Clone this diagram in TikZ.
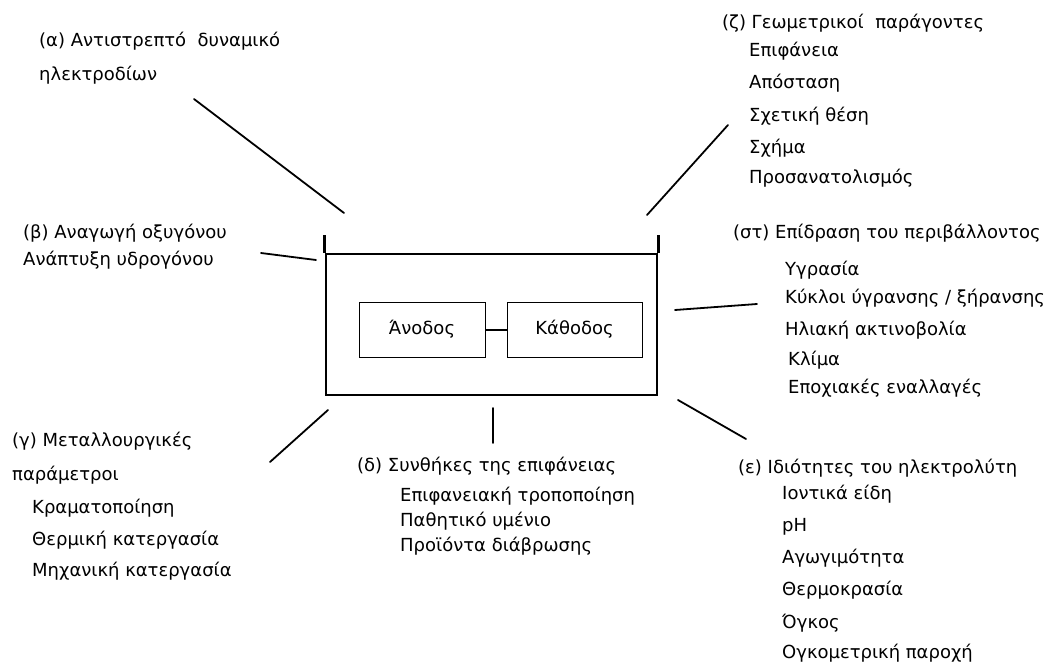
\documentclass[tikz,border=0pt]{standalone}
\usepackage{fontspec}
\setmainfont{DejaVu Sans}
\usetikzlibrary{positioning}

\begin{document}
\begin{tikzpicture}[x=1pt,y=-1pt,
  txt/.style={anchor=west,inner sep=0pt,text height=0.72em,text depth=0pt,font=\fontsize{18}{21}\selectfont},
  lead/.style={line width=1.8pt,line cap=round},
  electrode/.style={draw,line width=0.8pt,minimum height=55pt,inner sep=0pt,font=\fontsize{18}{21}\selectfont}]
  \useasboundingbox (0,0) rectangle (1062,666);

  % cell with electrolyte and rim
  \node[draw,line width=2.8pt,minimum width=331pt,minimum height=141pt,inner sep=0pt] (cell) at (491.5,324.5) {};
  \draw[line width=2.8pt] (cell.north west) -- ++(0,-18);
  \draw[line width=2.8pt] (cell.north east) -- ++(0,-18);
  \node[electrode,minimum width=126pt] (anode) at (422,329.5) {Άνοδος};
  \node[electrode,minimum width=135pt] (cathode) at (574.5,329.5) {Κάθοδος};
  \draw[line width=2pt] (anode) -- (cathode);

  % (a)
  \node[txt] (a1) at (39,43) {(α) Αντιστρεπτό\ \ δυναμικό};
  \node[txt] (a2) at (39,77) {ηλεκτροδίων};
  % (b)
  \node[txt] (b1) at (23,235) {(β) Αναγωγή οξυγόνου};
  \node[txt] (b2) at (23,262) {Ανάπτυξη υδρογόνου};
  % (g)
  \node[txt] (g0) at (12,443) {(γ) Μεταλλουργικές};
  \foreach \n/\y/\t in {1/477/παράμετροι} \node[txt] (g\n) at (12,\y) {\t};
  \foreach \n/\y/\t in {2/510/Κραματοποίηση,3/542/Θερμική κατεργασία,4/573/Μηχανική κατεργασία}
    \node[txt] (g\n) at (32,\y) {\t};
  % (d)
  \node[txt] (d0) at (357,468) {(δ) Συνθήκες της επιφάνειας};
  \foreach \n/\y/\t in {1/498/Επιφανειακή τροποποίηση,2/523/Παθητικό υμένιο,3/548/Προϊόντα διάβρωσης}
    \node[txt] (d\n) at (400,\y) {\t};
  % (e)
  \node[txt] (e0) at (738,470) {(ε) Ιδιότητες του ηλεκτρολύτη};
  \foreach \n/\y/\t in {1/496/Ιοντικά είδη,2/528/pH,3/560/Αγωγιμότητα,4/592/Θερμοκρασία,5/625/Όγκος,6/655/Ογκομετρική παροχή}
    \node[txt] (e\n) at (782,\y) {\t};
  % (st)
  \node[txt] (s0) at (733,235) {(στ) Επίδραση του περιβάλλοντος};
  \foreach \n/\x/\y/\t in {1/785/272/Υγρασία,2/785/300/{Κύκλοι ύγρανσης / ξήρανσης},3/785/332/Ηλιακή ακτινοβολία,4/788/362/Κλίμα,5/788/390/Εποχιακές εναλλαγές}
    \node[txt] (s\n) at (\x,\y) {\t};
  % (z)
  \node[txt] (z0) at (722,25) {(ζ) Γεωμετρικοί\ \ παράγοντες};
  \foreach \n/\y/\t in {1/53/Επιφάνεια,2/85/Απόσταση,3/118/Σχετική θέση,4/150/Σχήμα,5/180/Προσανατολισμός}
    \node[txt] (z\n) at (749,\y) {\t};

  % leader lines
  \coordinate (a-end) at (344,213);  \coordinate (a-start) at (194,99);
  \coordinate (b-end) at (316,260);  \coordinate (b-start) at (261,253);
  \coordinate (g-end) at (328,410);  \coordinate (g-start) at (270,462);
  \coordinate (d-end) at (493,408);  \coordinate (d-start) at (493,443);
  \coordinate (e-end) at (678,400);  \coordinate (e-start) at (746,439);
  \coordinate (s-end) at (675,310);  \coordinate (s-start) at (757,304);
  \coordinate (z-end) at (647,215);  \coordinate (z-start) at (728,125);
  \foreach \k in {a,b,g,d,e,s,z}
    \draw[lead] (\k-start) -- (\k-end);
\end{tikzpicture}
\end{document}
